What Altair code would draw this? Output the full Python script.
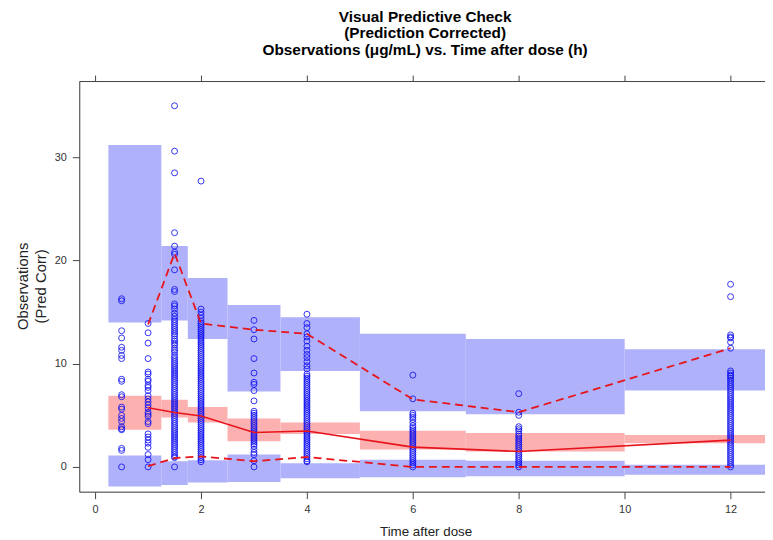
import altair as alt
import pandas as pd

# ---- binned simulation intervals ----
bin_start = [0.25, 1.25, 1.75, 2.5, 3.5, 5.0, 7.0, 10.0]
bin_end = [1.25, 1.75, 2.5, 3.5, 5.0, 7.0, 10.0, 14.0]
pi95_hi = [31.2, 21.4, 18.3, 15.7, 14.5, 12.9, 12.4, 11.4]
pi95_lo = [14.0, 14.2, 12.4, 7.3, 9.3, 5.4, 5.1, 7.4]
pi50_hi = [6.9, 6.5, 5.8, 4.7, 4.3, 3.5, 3.3, 3.1]
pi50_lo = [3.6, 4.8, 4.3, 2.5, 3.2, 1.7, 1.5, 2.3]
pi05_hi = [1.1, 0.55, 0.65, 1.2, 0.35, 0.7, 0.6, 0.2]
pi05_lo = [-1.9, -1.75, -1.5, -1.45, -1.1, -1.0, -0.9, -0.75]

# ---- observed percentiles ----
bin_time = [1, 1.5, 2, 3, 4, 6, 8, 12]
obs_p50 = [5.73, 5.28, 4.93, 3.33, 3.48, 1.92, 1.5, 2.6]
obs_p95 = [13.8, 20.7, 13.9, 13.3, 12.9, 6.55, 5.3, 11.5]
obs_p05 = [0.07, 0.86, 1.02, 0.55, 0.96, 0.0, 0.0, 0.0]

# ---- observations (prediction corrected) ----
obs_t05 = [16.3, 16.1, 13.2, 12.5, 11.6, 11.3, 10.8, 10.5, 8.5, 8.3, 7.0, 6.8,
           5.8, 5.6, 5.0, 4.7, 4.4, 3.9, 3.7, 3.6, 1.8, 1.6, 0.0]
obs_t1 = [13.9, 13.0, 12.0, 10.5, 9.2, 9.0, 8.5, 8.3, 7.9, 7.7, 7.4, 6.9, 6.6,
          6.3, 6.0, 5.7, 5.3, 5.1, 4.9, 4.4, 4.2, 3.2, 2.9, 2.6, 2.3, 1.9, 1.2,
          0.7, 0.0]
obs_t15 = [35.0, 30.6, 28.5, 22.7, 21.4, 20.8, 20.6, 19.1, 17.2, 17.0, 15.8,
           15.6, 15.3, 14.9, 14.6, 14.3, 14.1, 13.9, 13.7, 13.5, 13.3, 13.1,
           12.9, 12.7, 12.4, 12.2, 12.0, 11.8, 11.5, 11.3, 11.1, 10.8, 10.6,
           10.4, 10.2, 10.0, 9.8, 9.6, 9.4, 9.2, 9.0, 8.8, 8.6, 8.4, 8.2, 8.0,
           7.8, 7.6, 7.4, 7.2, 7.0, 6.8, 6.6, 6.4, 6.2, 6.0, 5.8, 5.6, 5.4,
           5.2, 5.0, 4.8, 4.6, 4.4, 4.2, 4.0, 3.8, 3.6, 3.4, 3.2, 3.0, 2.8,
           2.6, 2.4, 2.2, 2.0, 1.8, 1.6, 1.4, 1.2, 1.0, 0.9, 0.0]
obs_t2 = [27.7, 15.3, 15.0, 14.7, 14.4, 14.1, 13.9, 13.7, 13.5, 13.3, 13.1,
          12.9, 12.7, 12.5, 12.3, 12.1, 11.9, 11.7, 11.5, 11.3, 11.1, 10.9,
          10.7, 10.5, 10.3, 10.1, 9.9, 9.7, 9.5, 9.3, 9.1, 8.9, 8.7, 8.5, 8.3,
          8.1, 7.9, 7.7, 7.5, 7.3, 7.1, 6.9, 6.7, 6.5, 6.3, 6.1, 5.9, 5.7,
          5.5, 5.3, 5.1, 4.9, 4.7, 4.5, 4.3, 4.1, 3.9, 3.7, 3.5, 3.3, 3.1,
          2.9, 2.7, 2.5, 2.3, 2.1, 1.9, 1.7, 1.5, 1.3, 1.1, 0.9, 0.7, 0.5]
obs_t3 = [14.2, 13.3, 12.4, 10.5, 9.1, 8.2, 8.0, 7.4, 6.4, 5.4, 5.2, 5.0, 4.8,
          4.6, 4.4, 4.2, 4.0, 3.8, 3.6, 3.4, 3.2, 3.0, 2.8, 2.6, 2.4, 2.2,
          2.0, 1.7, 1.4, 1.2, 0.6, 0.0]
obs_t4 = [14.8, 13.9, 13.5, 12.9, 12.6, 12.2, 11.7, 11.3, 10.9, 10.6, 10.2,
          9.8, 9.5, 9.0, 8.8, 8.6, 8.4, 8.2, 8.0, 7.8, 7.6, 7.4, 7.2, 7.0,
          6.8, 6.6, 6.4, 6.2, 6.0, 5.8, 5.6, 5.4, 5.2, 5.0, 4.8, 4.6, 4.4,
          4.2, 4.0, 3.8, 3.6, 3.4, 3.2, 3.0, 2.8, 2.6, 2.4, 2.2, 2.0, 1.8,
          1.6, 1.4, 1.2, 1.0, 0.8, 0.6, 0.5]
obs_t6 = [8.9, 6.6, 5.2, 5.0, 4.8, 4.6, 4.3, 4.0, 3.8, 3.6, 3.4, 3.2, 3.0,
          2.8, 2.6, 2.4, 2.2, 2.0, 1.8, 1.6, 1.4, 1.2, 1.0, 0.8, 0.6, 0.4,
          0.2, 0.0]
obs_t8 = [7.1, 5.3, 5.0, 3.9, 3.7, 3.5, 3.2, 3.0, 2.8, 2.6, 2.4, 2.2, 2.0,
          1.8, 1.6, 1.4, 1.2, 1.0, 0.8, 0.6, 0.4, 0.2, 0.0]
obs_t12 = [17.7, 16.5, 12.8, 12.6, 12.5, 12.1, 11.5, 9.3, 9.1, 8.9, 8.8, 8.6,
           8.4, 8.2, 8.0, 7.8, 7.6, 7.4, 7.2, 7.0, 6.8, 6.6, 6.4, 6.2, 6.0,
           5.8, 5.6, 5.4, 5.2, 5.0, 4.8, 4.6, 4.4, 4.2, 4.0, 3.8, 3.6, 3.4,
           3.2, 3.0, 2.8, 2.6, 2.4, 2.2, 2.0, 1.8, 1.6, 1.4, 1.2, 1.0, 0.8,
           0.6, 0.4, 0.2, 0.0]

obs_times = [0.5, 1, 1.5, 2, 3, 4, 6, 8, 12]
obs_lists = [obs_t05, obs_t1, obs_t15, obs_t2, obs_t3, obs_t4, obs_t6, obs_t8, obs_t12]

x_ticks = [0, 2, 4, 6, 8, 10, 12]
y_ticks = [0, 10, 20, 30]

# ---- tables ----
bands = pd.DataFrame({
    "x1": bin_start, "x2": bin_end,
    "hi95_a": pi95_lo, "hi95_b": pi95_hi,
    "mid_a": pi50_lo, "mid_b": pi50_hi,
    "lo_a": pi05_lo, "lo_b": pi05_hi,
})
lines = pd.DataFrame({"t": bin_time, "p50": obs_p50, "p95": obs_p95, "p05": obs_p05})
pts = pd.DataFrame({
    "t": [t for t, vals in zip(obs_times, obs_lists) for _ in vals],
    "v": [v for vals in obs_lists for v in vals],
})

FONT = "Liberation Sans"
xscale = alt.Scale(domain=[-0.3, 12.65], nice=False, zero=False)
yscale = alt.Scale(domain=[-2.4, 37.4], nice=False, zero=False)

yaxis = alt.Axis(values=y_ticks, grid=False, tickSize=7, tickColor="#444",
                 domainColor="#444", labelColor="#333", labelFontSize=11,
                 labelFont=FONT, labelPadding=6,
                 title=["Observations", "(Pred Corr)"], titleFont=FONT,
                 titleFontSize=15, titleFontWeight="normal", titleColor="#222",
                 titleAngle=-90, titleX=-57, titleY=207, titleAlign="center",
                 titleBaseline="middle", titleLineHeight=18)
xaxis_bottom = alt.Axis(values=x_ticks, grid=False, tickSize=7, tickColor="#444",
                        domainColor="#444", labelColor="#333", labelFontSize=11,
                        labelFont=FONT, labelPadding=5, title="Time after dose",
                        titleFont=FONT, titleFontSize=13.5, titleFontWeight="normal",
                        titleColor="#222", titleX=350, titleY=40,
                        titleAlign="center", titleBaseline="middle")
xaxis_top = alt.Axis(orient="top", values=x_ticks, grid=False, tickSize=6,
                     tickColor="#444", domainColor="#444", labels=False, title=None)


def Y(field, **kw):
    return alt.Y(field, type="quantitative", scale=yscale, axis=yaxis, **kw)


BLUE = "#afb1fa"
PINK = "#fcb0b0"
RED = "#e8141c"

band_hi = alt.Chart(bands).mark_rect(color=BLUE, clip=True).encode(
    x=alt.X("x1:Q", scale=xscale, axis=xaxis_top), x2="x2", y=Y("hi95_a"), y2="hi95_b")
band_lo = alt.Chart(bands).mark_rect(color=BLUE, clip=True).encode(
    x=alt.X("x1:Q", scale=xscale, axis=None), x2="x2", y=Y("lo_a"), y2="lo_b")
band_mid = alt.Chart(bands).mark_rect(color=PINK, clip=True).encode(
    x=alt.X("x1:Q", scale=xscale, axis=None), x2="x2", y=Y("mid_a"), y2="mid_b")

points = alt.Chart(pts).mark_point(shape="circle", filled=False, size=36,
                                   strokeWidth=1, color="#1010f0", opacity=0.85).encode(
    x=alt.X("t:Q", scale=xscale, axis=xaxis_bottom), y=Y("v"))

line50 = alt.Chart(lines).mark_line(color=RED, strokeWidth=1.6).encode(
    x=alt.X("t:Q", scale=xscale, axis=None), y=Y("p50"))
line95 = alt.Chart(lines).mark_line(color=RED, strokeWidth=1.8, strokeDash=[8, 5]).encode(
    x=alt.X("t:Q", scale=xscale, axis=None), y=Y("p95"))
line05 = alt.Chart(lines).mark_line(color=RED, strokeWidth=1.8, strokeDash=[8, 5]).encode(
    x=alt.X("t:Q", scale=xscale, axis=None), y=Y("p05"))

chart = alt.layer(band_hi, band_lo, band_mid, points, line50, line95, line05).resolve_axis(
    x="independent"
).properties(
    width=693, height=415,
    autosize=alt.AutoSizeParams(type="none"),
    padding={"left": 72, "top": 71, "right": 0, "bottom": 44},
    title=alt.TitleParams(
        text=["Visual Predictive Check", "(Prediction Corrected)",
              "Observations (μg/mL) vs. Time after dose (h)"],
        font=FONT, fontSize=15.5, fontWeight="bold", color="#000",
        anchor="middle", lineHeight=17, offset=16, dx=3),
).configure_view(stroke=None).configure(background="white")

chart.save("out.html", embed_options={"renderer": "svg", "actions": False})
